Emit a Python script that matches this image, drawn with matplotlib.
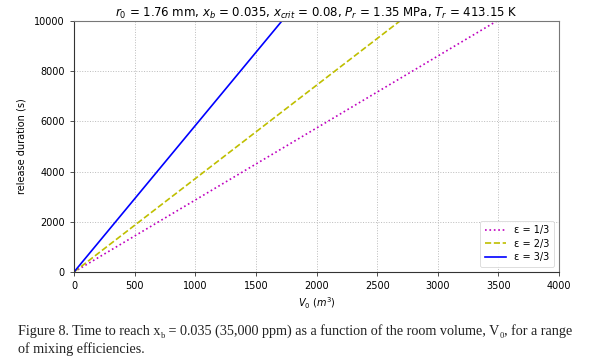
import matplotlib
matplotlib.use("Agg")
import matplotlib.pyplot as plt

# Data
volume = [0, 4000]                      # V0 (m^3)
dur_eps_1_3 = [0, 11470]                # release duration (s), eps = 1/3
dur_eps_2_3 = [0, 14880]                # eps = 2/3
dur_eps_3_3 = [0, 23330]                # eps = 3/3
labels = ["ε = 1/3", "ε = 2/3", "ε = 3/3"]
xticks = [0, 500, 1000, 1500, 2000, 2500, 3000, 3500, 4000]
yticks = [0, 2000, 4000, 6000, 8000, 10000]

plt.rcParams['font.family'] = ['DejaVu Sans']

fig = plt.figure(figsize=(6.05, 3.59), dpi=100)
ax = fig.add_axes([74/605, 1-272/359, (559-74)/605, (272-21)/359])

ax.plot(volume, dur_eps_1_3, color='m', linestyle=':', lw=1.2, label=labels[0])
ax.plot(volume, dur_eps_2_3, color='y', linestyle='--', lw=1.2, label=labels[1])
ax.plot(volume, dur_eps_3_3, color='b', linestyle='-', lw=1.2, label=labels[2])

ax.set_xlim(0, 4000)
ax.set_ylim(0, 10000)
ax.set_xticks(xticks)
ax.set_yticks(yticks)
ax.tick_params(labelsize=7, length=3, width=0.6, color='#333')
ax.grid(True, linestyle=':', color='#bbb', lw=0.7)
for s in ax.spines.values():
    s.set_linewidth(0.8)
    s.set_color('#333')
for s in ['top', 'right']:
    ax.spines[s].set_color('#777')

ax.set_xlabel(r"$V_0$ $(m^3)$", fontsize=7, labelpad=3)
ax.set_ylabel("release duration (s)", fontsize=7, labelpad=6)
ax.set_title(r"$r_0$ = 1.76 mm, $x_b$ = 0.035, $x_{crit}$ = 0.08, $P_r$ = 1.35 MPa, $T_r$ = 413.15 K",
             fontsize=8.5, pad=3)
leg = ax.legend(loc='lower right', fontsize=7, handlelength=2.2, framealpha=0.9,
                borderpad=0.5, labelspacing=0.35)
leg.get_frame().set_linewidth(0.5)

# Caption with manual subscripts
renderer = fig.canvas.get_renderer()
serif = 'Liberation Serif'
fs = 10.2
x0 = 18 / 605
y1 = 1 - 335 / 359
y2 = 1 - 353 / 359
pieces = [("Figure 8. Time to reach x", 0), ("b", 1),
          (" = 0.035 (35,000 ppm) as a function of the room volume, V", 0), ("0", 1),
          (", for a range", 0)]
x = x0
for txt, sub in pieces:
    t = fig.text(x, y1 - (0.008 if sub else 0), txt, fontsize=fs * (0.6 if sub else 1),
                 family=serif, color='#222', va='baseline', ha='left')
    bb = t.get_window_extent(renderer)
    x += bb.width / fig.bbox.width
fig.text(x0, y2, "of mixing efficiencies.", fontsize=fs, family=serif, color='#222',
         va='baseline', ha='left')

fig.savefig("out.png", dpi=100)
